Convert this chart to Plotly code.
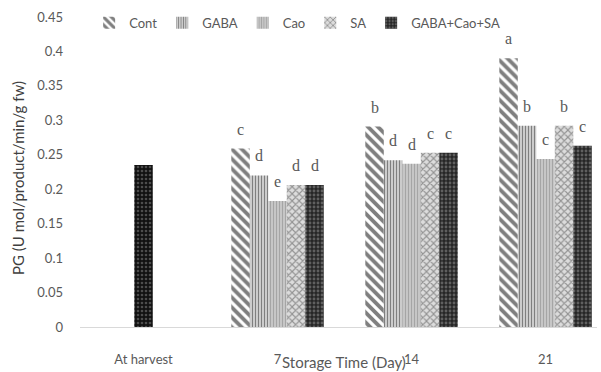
import plotly.graph_objects as go

categories = ["At harvest", "7", "14", "21"]
storage_days = ["7", "14", "21"]
series_names = ["Cont", "GABA", "Cao", "SA", "GABA+Cao+SA"]
cont = [0.259, 0.291, 0.390]
gaba = [0.220, 0.242, 0.292]
cao = [0.183, 0.237, 0.244]
sa = [0.206, 0.253, 0.292]
combo = [0.206, 0.253, 0.263]
at_harvest = [0.235]
letters_cont = ["c", "b", "a"]
letters_gaba = ["d", "d", "b"]
letters_cao = ["e", "d", "c"]
letters_sa = ["d", "c", "b"]
letters_combo = ["d", "c", "c"]
y_ticks = [0, 0.05, 0.1, 0.15, 0.2, 0.25, 0.3, 0.35, 0.4, 0.45]
y_tick_text = ["0", "0.05", "0.1", "0.15", "0.2", "0.25", "0.3", "0.35", "0.4", "0.45"]

values = [cont, gaba, cao, sa, combo]
letters = [letters_cont, letters_gaba, letters_cao, letters_sa, letters_combo]

patterns = [
    dict(shape="\\", fgcolor="#000000", bgcolor="#ffffff", size=7, solidity=0.55),
    dict(shape="|", fgcolor="#000000", bgcolor="#ffffff", size=3, solidity=0.6),
    dict(shape="|", fgcolor="#7a7a7a", bgcolor="#d0d0d0", size=3, solidity=0.5),
    dict(shape="x", fgcolor="#4a4a4a", bgcolor="#dcdcdc", size=5, solidity=0.4),
    dict(shape=".", fgcolor="#9a9a9a", bgcolor="#262626", size=4, solidity=0.4),
]

W, H = 601, 372
ML, MR, MT, MB = 80, 4, 17, 45
x_range = [-0.474, 3.384]
bar_w = 0.138
px_per_unit = (W - ML - MR) / (x_range[1] - x_range[0])

fig = go.Figure()
for i, (name, vals, pat) in enumerate(zip(series_names, values, patterns)):
    fig.add_trace(go.Bar(
        name=name, x=storage_days, y=vals,
        width=bar_w, offset=-2.5 * bar_w + i * bar_w,
        marker=dict(color="#ffffff", pattern=pat, line=dict(width=0)),
    ))

fig.add_trace(go.Bar(
    name="At harvest", x=["At harvest"], y=at_harvest, showlegend=False,
    width=bar_w, offset=-0.5 * bar_w,
    marker=dict(color="#ffffff", line=dict(width=0),
                pattern=dict(shape=".", fgcolor="#8a8a8a", bgcolor="#111111", size=4, solidity=0.35)),
))

annotations = []
for i, (vals, labs) in enumerate(zip(values, letters)):
    for day, v, lab in zip(storage_days, vals, labs):
        annotations.append(dict(
            x=categories.index(day), y=v, xref="x", yref="y", text=lab, showarrow=False,
            xshift=(i - 2) * bar_w * px_per_unit, yshift=9, yanchor="bottom",
            font=dict(family="Liberation Serif", size=16, color="#595959"),
        ))

annotations.append(dict(
    text="PG (U mol/product/min/g fw)", textangle=-90, showarrow=False,
    xref="paper", yref="paper", x=(18 - ML) / (W - ML - MR), y=(H - MB - 178) / (H - MT - MB),
    xanchor="center", yanchor="middle",
    font=dict(family="Lato", size=15, color="#404040"),
))
annotations.append(dict(
    text="Storage Time (Day)", showarrow=False,
    xref="paper", yref="paper", x=(344 - ML) / (W - ML - MR), y=-(362 - (H - MB)) / (H - MT - MB),
    xanchor="center", yanchor="middle",
    font=dict(family="Lato", size=15, color="#595959"),
))

fig.update_layout(
    width=W, height=H,
    margin=dict(l=ML, r=MR, t=MT, b=MB, pad=0),
    paper_bgcolor="white", plot_bgcolor="white",
    barmode="group",
    font=dict(family="Lato", size=13, color="#595959"),
    legend=dict(orientation="h", x=0.42, xanchor="center", y=1.03, yanchor="top",
                font=dict(family="Lato", size=13, color="#595959"),
                bgcolor="rgba(0,0,0,0)", itemwidth=30, tracegroupgap=0),
    annotations=annotations,
    xaxis=dict(type="category", categoryorder="array", categoryarray=categories,
               range=x_range, showgrid=False, showline=True, linecolor="#d9d9d9",
               linewidth=1, ticks="", ticklabelstandoff=20, zeroline=False,
               tickfont=dict(family="Lato", size=13, color="#595959")),
    yaxis=dict(range=[0, 0.45], tickvals=y_ticks, ticktext=y_tick_text,
               showgrid=False, showline=False, zeroline=False, ticks="",
               ticklabelstandoff=16,
               tickfont=dict(family="Lato", size=13, color="#595959")),
)

fig.write_html("out.html")
